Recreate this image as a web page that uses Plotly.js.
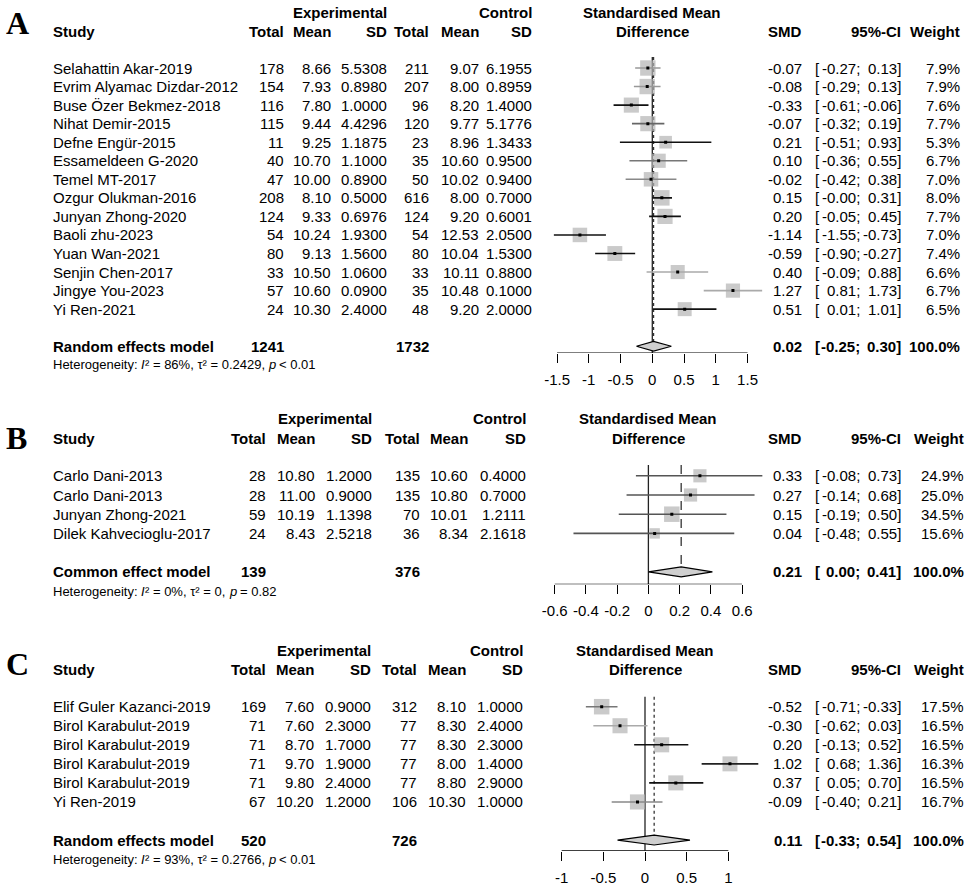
<!DOCTYPE html>
<html><head><meta charset="utf-8">
<script src="https://cdn.plot.ly/plotly-3.0.1.min.js"></script>
<style>html,body{margin:0;padding:0;background:#fff}#chart{width:972px;height:892px}</style>
</head><body><div id="chart"></div>
<script>
// ---------------- DATA : panel A ----------------
const studiesA = ["Selahattin Akar-2019","Evrim Alyamac Dizdar-2012","Buse Özer Bekmez-2018","Nihat Demir-2015","Defne Engür-2015","Essameldeen G-2020","Temel MT-2017","Ozgur Olukman-2016","Junyan Zhong-2020","Baoli zhu-2023","Yuan Wan-2021","Senjin Chen-2017","Jingye You-2023","Yi Ren-2021"];
const expTotalA = [178,154,116,115,11,40,47,208,124,54,80,33,57,24];
const expMeanA  = [8.66,7.93,7.80,9.44,9.25,10.70,10.00,8.10,9.33,10.24,9.13,10.50,10.60,10.30];
const expSDA    = [5.5308,0.8980,1.0000,4.4296,1.1875,1.1000,0.8900,0.5000,0.6976,1.9300,1.5600,1.0600,0.0900,2.4000];
const ctlTotalA = [211,207,96,120,23,35,50,616,124,54,80,33,35,48];
const ctlMeanA  = [9.07,8.00,8.20,9.77,8.96,10.60,10.02,8.00,9.20,12.53,10.04,10.11,10.48,9.20];
const ctlSDA    = [6.1955,0.8959,1.4000,5.1776,1.3433,0.9500,0.9400,0.7000,0.6001,2.0500,1.5300,0.8800,0.1000,2.0000];
const smdA      = [-0.07,-0.08,-0.33,-0.07,0.21,0.10,-0.02,0.15,0.20,-1.14,-0.59,0.40,1.27,0.51];
const lowA      = [-0.27,-0.29,-0.61,-0.32,-0.51,-0.36,-0.42,-0.00,-0.05,-1.55,-0.90,-0.09,0.81,0.01];
const upA       = [0.13,0.13,-0.06,0.19,0.93,0.55,0.38,0.31,0.45,-0.73,-0.27,0.88,1.73,1.01];
const weightA   = [7.9,7.9,7.6,7.7,5.3,6.7,7.0,8.0,7.7,7.0,7.4,6.6,6.7,6.5];
const pooledA   = {label:"Random effects model", expN:1241, ctlN:1732, smd:0.02, low:-0.25, up:0.30, weight:100.0};
const hetA      = {i2:"86%", tau2:"0.2429", p:"< 0.01"};
const ticksA    = [-1.5,-1,-0.5,0,0.5,1,1.5];
const tickTextA = ["-1.5","-1","-0.5","0","0.5","1","1.5"];

// ---------------- DATA : panel B ----------------
const studiesB = ["Carlo Dani-2013","Carlo Dani-2013","Junyan Zhong-2021","Dilek Kahvecioglu-2017"];
const expTotalB = [28,28,59,24];
const expMeanB  = [10.80,11.00,10.19,8.43];
const expSDB    = [1.2000,0.9000,1.1398,2.5218];
const ctlTotalB = [135,135,70,36];
const ctlMeanB  = [10.60,10.80,10.01,8.34];
const ctlSDB    = [0.4000,0.7000,1.2111,2.1618];
const smdB      = [0.33,0.27,0.15,0.04];
const lowB      = [-0.08,-0.14,-0.19,-0.48];
const upB       = [0.73,0.68,0.50,0.55];
const weightB   = [24.9,25.0,34.5,15.6];
const pooledB   = {label:"Common effect model", expN:139, ctlN:376, smd:0.21, low:0.00, up:0.41, weight:100.0};
const hetB      = {i2:"0%", tau2:"0", p:"= 0.82"};
const ticksB    = [-0.6,-0.4,-0.2,0,0.2,0.4,0.6];
const tickTextB = ["-0.6","-0.4","-0.2","0","0.2","0.4","0.6"];

// ---------------- DATA : panel C ----------------
const studiesC = ["Elif Guler Kazanci-2019","Birol Karabulut-2019","Birol Karabulut-2019","Birol Karabulut-2019","Birol Karabulut-2019","Yi Ren-2019"];
const expTotalC = [169,71,71,71,71,67];
const expMeanC  = [7.60,7.60,8.70,9.70,9.80,10.20];
const expSDC    = [0.9000,2.3000,1.7000,1.9000,2.4000,1.2000];
const ctlTotalC = [312,77,77,77,77,106];
const ctlMeanC  = [8.10,8.30,8.30,8.00,8.80,10.30];
const ctlSDC    = [1.0000,2.4000,2.3000,1.4000,2.9000,1.0000];
const smdC      = [-0.52,-0.30,0.20,1.02,0.37,-0.09];
const lowC      = [-0.71,-0.62,-0.13,0.68,0.05,-0.40];
const upC       = [-0.33,0.03,0.52,1.36,0.70,0.21];
const weightC   = [17.5,16.5,16.5,16.3,16.5,16.7];
const pooledC   = {label:"Random effects model", expN:520, ctlN:726, smd:0.11, low:-0.33, up:0.54, weight:100.0};
const hetC      = {i2:"93%", tau2:"0.2766", p:"< 0.01"};
const ticksC    = [-1,-0.5,0,0.5,1];
const tickTextC = ["-1","-0.5","0","0.5","1"];

// ---------------- LAYOUT / STYLE ----------------
const W = 972, H = 892;
const FONT_NAME = "Liberation Sans";
const FONT = '"Liberation Sans", Arial, Helvetica, sans-serif';
const SERIF = '"Liberation Serif", "Times New Roman", serif';
const FS = 15, HET_FS = 13;
const SQ_MAX = 15.5;

const panels = [
  {letter:"A", letterY:23, row0:68, dy:18.55, axisPx:353, lineTopPx:57, zeroPx:652.3, ppu:63.5, range:[-1.75,1.85],
   cols:[285,332,388,430,480,533], wX:961, refDash:"dot",
   ciShade:["#999","#999","#111","#666","#111","#777","#888","#111","#111","#111","#111","#aaa","#aaa","#111"],
   studies:studiesA, eT:expTotalA, eM:expMeanA, eS:expSDA, cT:ctlTotalA, cM:ctlMeanA, cS:ctlSDA,
   smd:smdA, low:lowA, up:upA, w:weightA, pooled:pooledA, het:hetA, ticks:ticksA, tickText:tickTextA},
  {letter:"B", letterY:438, row0:475.8, dy:19.2, axisPx:584.3, lineTopPx:465, zeroPx:648.4, ppu:156.1, range:[-0.75,0.82],
   cols:[267,316,373,421,469,527], wX:965, refDash:"dash",
   ciShade:["#555","#555","#555","#555"],
   studies:studiesB, eT:expTotalB, eM:expMeanB, eS:expSDB, cT:ctlTotalB, cM:ctlMeanB, cS:ctlSDB,
   smd:smdB, low:lowB, up:upB, w:weightB, pooled:pooledB, het:hetB, ticks:ticksB, tickText:tickTextB},
  {letter:"C", letterY:664, row0:706.7, dy:19.05, axisPx:850.7, lineTopPx:696.7, zeroPx:645, ppu:83.3, range:[-1.1,1.5],
   cols:[267,315,372,418,467,524], wX:965, refDash:"dot",
   ciShade:["#777","#aaa","#111","#222","#111","#888"],
   studies:studiesC, eT:expTotalC, eM:expMeanC, eS:expSDC, cT:ctlTotalC, cM:ctlMeanC, cS:ctlSDC,
   smd:smdC, low:lowC, up:upC, w:weightC, pooled:pooledC, het:hetC, ticks:ticksC, tickText:tickTextC}
];
const STUDY_X = 52, SMD_X = 803, BR_X = 814, SEMI_X = 861, CI_END_X = 902;

function f2(v){ if (Object.is(v,-0)) return "-0.00"; return v.toFixed(2); }
function fw(v){ return v.toFixed(1) + "%"; }
function px(x){ return x / W; }
function py(y){ return 1 - y / H; }
function esc(s){ return s.replace(/&/g,"&amp;").replace(/</g,"&lt;").replace(/>/g,"&gt;"); }

const mctx = document.createElement("canvas").getContext("2d");
function tw(text, size, italic){
  mctx.font = (italic ? "italic " : "") + size + 'px "' + FONT_NAME + '"';
  return mctx.measureText(text).width;
}

const traces = [], annotations = [], shapes = [], layout = {};

function ann(x, y, text, xanchor, opt){
  opt = opt || {};
  annotations.push({xref:"paper", yref:"paper", x:px(x), y:py(y), text:text, showarrow:false,
    xanchor:xanchor, yanchor:"middle", align:xanchor==="right"?"right":"left",
    font:{family:opt.family||FONT, size:opt.size||FS, color:"#000", style:opt.italic?"italic":"normal"}, borderpad:0});
}
// a line of text made of plain and italic runs, laid side by side
function annRuns(x, y, runs, size){
  let cx = x;
  runs.forEach(r => {
    const lead = r.t.length - r.t.replace(/^\s+/, "").length;
    const body = r.t.trim();
    if (body) ann(cx + tw(r.t.slice(0, lead), size, r.i), y, esc(body), "left", {size:size, italic:r.i});
    cx += tw(r.t, size, r.i);
  });
}

panels.forEach((p, k) => {
  const xa = k === 0 ? "x" : "x" + (k+1);
  const ya = k === 0 ? "y" : "y" + (k+1);
  const rowPx = i => p.row0 + p.dy * i;
  const n = p.studies.length;
  const pooledRow = n + 1, hetRow = n + 2;
  const axisRow = (p.axisPx - p.row0) / p.dy;
  const topPx = p.lineTopPx - 6;
  const topRow = (topPx - p.row0) / p.dy;
  const lineTopRow = (p.lineTopPx - p.row0) / p.dy;

  layout["xaxis" + (k ? k+1 : "")] = {
    domain:[px(p.zeroPx + p.ppu*p.range[0]), px(p.zeroPx + p.ppu*p.range[1])],
    range:p.range, anchor:ya, showgrid:false, zeroline:false, showline:false,
    tickmode:"array", tickvals:p.ticks, ticktext:p.tickText, ticks:"outside", ticklen:9,
    tickwidth:1, tickcolor:"#000", tickfont:{family:FONT, size:FS, color:"#000"}, ticklabelstandoff:4,
    fixedrange:true
  };
  layout["yaxis" + (k ? k+1 : "")] = {
    domain:[py(p.axisPx), py(topPx)], range:[axisRow, topRow], anchor:xa,
    showgrid:false, zeroline:false, showline:false, showticklabels:false, ticks:"", fixedrange:true
  };

  // axis line
  shapes.push({type:"line", xref:xa, yref:ya, x0:p.ticks[0], x1:p.ticks[p.ticks.length-1], y0:axisRow, y1:axisRow,
    line:{color:"#000", width:1.2}});
  // null line and pooled-effect line
  shapes.push({type:"line", xref:xa, yref:ya, x0:0, x1:0, y0:lineTopRow, y1:axisRow, line:{color:"#222", width:1.3}, layer:"below"});
  shapes.push({type:"line", xref:xa, yref:ya, x0:p.pooled.smd, x1:p.pooled.smd, y0:lineTopRow, y1:pooledRow,
    line:{color:"#333", width:1.3, dash:p.refDash}, layer:"below"});

  const rows = p.studies.map((_, i) => i);
  const maxW = Math.max(...p.w);
  // squares (area proportional to weight)
  traces.push({type:"scatter", mode:"markers", xaxis:xa, yaxis:ya, x:p.smd, y:rows,
    marker:{symbol:"square", size:p.w.map(v => SQ_MAX*Math.sqrt(v/maxW)), color:"#b4b4b4", line:{width:0}},
    hoverinfo:"skip", showlegend:false, cliponaxis:false});
  // confidence intervals
  rows.forEach(i => {
    traces.push({type:"scatter", mode:"lines", xaxis:xa, yaxis:ya, x:[p.low[i], p.up[i]], y:[i, i],
      line:{color:p.ciShade[i], width:1.6}, hoverinfo:"skip", showlegend:false});
  });
  // point estimates
  traces.push({type:"scatter", mode:"markers", xaxis:xa, yaxis:ya, x:p.smd, y:rows,
    marker:{symbol:"square", size:3, color:"#000"}, hoverinfo:"skip", showlegend:false});
  // pooled diamond
  const h = 0.26;
  traces.push({type:"scatter", mode:"lines", xaxis:xa, yaxis:ya,
    x:[p.pooled.low, p.pooled.smd, p.pooled.up, p.pooled.smd, p.pooled.low],
    y:[pooledRow, pooledRow-h, pooledRow, pooledRow+h, pooledRow],
    fill:"toself", fillcolor:"#cfcfcf", line:{color:"#000", width:1.2}, hoverinfo:"skip", showlegend:false});

  // ---- text ----
  ann(5, p.letterY, "<b>" + p.letter + "</b>", "left", {family:SERIF, size:32});
  const h1 = rowPx(-2.97), h2 = rowPx(-1.95);
  ann(p.cols[2], h1, "<b>Experimental</b>", "right");
  ann(p.cols[5], h1, "<b>Control</b>", "right");
  ann(STUDY_X, h2, "<b>Study</b>", "left");
  ["Total","Mean","SD","Total","Mean","SD"].forEach((t, c) => ann(p.cols[c], h2, "<b>" + t + "</b>", "right"));
  const mid = p.zeroPx + p.ppu * (p.ticks[0] + p.ticks[p.ticks.length-1]) / 2;
  ann(mid, h1, "<b>Standardised Mean</b>", "center");
  ann(mid, h2, "<b>Difference</b>", "center");
  ann(SMD_X, h2, "<b>SMD</b>", "right");
  ann(CI_END_X, h2, "<b>95%-CI</b>", "right");
  ann(p.wX, h2, "<b>Weight</b>", "right");

  rows.forEach(i => {
    const y = rowPx(i);
    ann(STUDY_X, y, p.studies[i], "left");
    ann(p.cols[0], y, String(p.eT[i]), "right");
    ann(p.cols[1], y, p.eM[i].toFixed(2), "right");
    ann(p.cols[2], y, p.eS[i].toFixed(4), "right");
    ann(p.cols[3], y, String(p.cT[i]), "right");
    ann(p.cols[4], y, p.cM[i].toFixed(2), "right");
    ann(p.cols[5], y, p.cS[i].toFixed(4), "right");
    ann(SMD_X, y, f2(p.smd[i]), "right");
    ann(BR_X, y, "[", "left");
    ann(SEMI_X, y, f2(p.low[i]) + ";", "right");
    ann(CI_END_X, y, f2(p.up[i]) + "]", "right");
    ann(p.wX, y, fw(p.w[i]), "right");
  });
  const yp = rowPx(pooledRow);
  const P = p.pooled;
  ann(STUDY_X, yp, "<b>" + P.label + "</b>", "left");
  ann(p.cols[0], yp, "<b>" + P.expN + "</b>", "right");
  ann(p.cols[3], yp, "<b>" + P.ctlN + "</b>", "right");
  ann(SMD_X, yp, "<b>" + f2(P.smd) + "</b>", "right");
  ann(BR_X, yp, "<b>[</b>", "left");
  ann(SEMI_X, yp, "<b>" + f2(P.low) + ";</b>", "right");
  ann(CI_END_X, yp, "<b>" + f2(P.up) + "]</b>", "right");
  ann(p.wX, yp, "<b>" + fw(P.weight) + "</b>", "right");
  annRuns(STUDY_X, rowPx(hetRow), [
    {t:"Heterogeneity: "}, {t:"I", i:true},
    {t:"\u00B2 = " + p.het.i2 + ", \u03C4\u00B2 = " + p.het.tau2 + ", "}, {t:"p", i:true},
    {t:" " + p.het.p}
  ], HET_FS);
});

Object.assign(layout, {
  width:W, height:H, autosize:false, margin:{l:0, r:0, t:0, b:0},
  paper_bgcolor:"#fff", plot_bgcolor:"rgba(0,0,0,0)", showlegend:false,
  annotations:annotations, shapes:shapes, font:{family:FONT, size:FS, color:"#000"}
});

Plotly.newPlot("chart", traces, layout, {staticPlot:true, displayModeBar:false});
</script></body></html>
